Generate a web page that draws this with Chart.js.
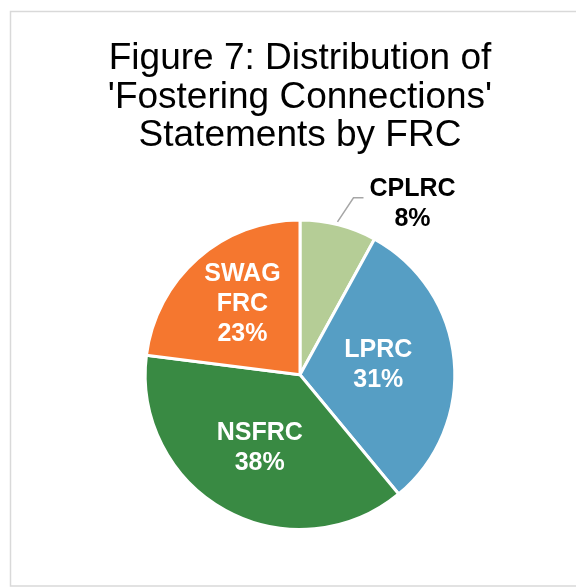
<!DOCTYPE html>
<html>
<head>
<meta charset="utf-8">
<script src="https://cdn.jsdelivr.net/npm/chart.js@4.4.1/dist/chart.umd.min.js"></script>
<style>
  html, body { margin: 0; padding: 0; background: #ffffff; }
  #wrap { width: 576px; height: 587px; }
</style>
</head>
<body>
<div id="wrap"><canvas id="c" width="576" height="587"></canvas></div>
<script>
// FRC categories and their share of statements (%)
const categories = ['CPLRC', 'LPRC', 'NSFRC', 'SWAG FRC'];
const labelLines = [['CPLRC'], ['LPRC'], ['NSFRC'], ['SWAG', 'FRC']];
const shares = [8, 31, 38, 23];
const sliceColors = ['#B5CD96', '#569EC4', '#398A43', '#F5772F'];
const titleLines = ['Figure 7: Distribution of', "'Fostering Connections'", 'Statements by FRC'];

const FONT = '"Liberation Sans", Arial, Helvetica, sans-serif';

// Outer frame of the chart
const framePlugin = {
  id: 'frame',
  beforeDraw(chart) {
    const ctx = chart.ctx;
    ctx.save();
    ctx.fillStyle = '#ffffff';
    ctx.fillRect(0, 0, chart.width, chart.height);
    ctx.strokeStyle = '#d9d9d9';
    ctx.lineWidth = 1.5;
    ctx.strokeRect(10.5, 11.5, chart.width + 10, 574.5);
    ctx.restore();
  }
};

// Data labels: category name + percentage, inside slices or outside with a leader line
const labelPlugin = {
  id: 'sliceLabels',
  afterDatasetsDraw(chart, args, opts) {
    const ctx = chart.ctx;
    const meta = chart.getDatasetMeta(0);
    ctx.save();
    ctx.font = 'bold 25px ' + FONT;
    ctx.textAlign = 'center';
    ctx.textBaseline = 'middle';
    const lh = 30;
    meta.data.forEach((arc, i) => {
      const p = arc.getProps(['x', 'y', 'startAngle', 'endAngle', 'outerRadius']);
      const mid = (p.startAngle + p.endAngle) / 2;
      const lines = labelLines[i].concat([shares[i] + '%']);
      let cx, cy;
      const place = opts.placement[i];
      if (place.outside) {
        const ex = p.x + Math.cos(mid) * p.outerRadius;
        const ey = p.y + Math.sin(mid) * p.outerRadius;
        // leader line
        ctx.strokeStyle = '#a6a6a6';
        ctx.lineWidth = 1.5;
        ctx.beginPath();
        ctx.moveTo(ex - 1, ey - 3);
        ctx.lineTo(ex + place.elbow[0], ey + place.elbow[1]);
        ctx.lineTo(ex + place.elbow[0] + 10, ey + place.elbow[1]);
        ctx.stroke();
        cx = ex + place.offset[0];
        cy = ey + place.offset[1];
        ctx.fillStyle = '#000000';
      } else {
        const r = p.outerRadius * place.r;
        cx = p.x + Math.cos(mid + (place.da || 0)) * r;
        cy = p.y + Math.sin(mid + (place.da || 0)) * r;
        ctx.fillStyle = '#ffffff';
      }
      const top = cy - (lines.length - 1) * lh / 2;
      lines.forEach((t, k) => ctx.fillText(t, cx, top + k * lh));
    });
    ctx.restore();
  }
};

new Chart(document.getElementById('c'), {
  type: 'pie',
  data: {
    labels: categories,
    datasets: [{
      data: shares,
      backgroundColor: sliceColors,
      borderColor: '#ffffff',
      borderWidth: 3
    }]
  },
  options: {
    responsive: false,
    animation: false,
    events: [],
    layout: { padding: { top: 0, bottom: 56, left: 24, right: 0 } },
    plugins: {
      legend: { display: false },
      tooltip: { enabled: false },
      title: {
        display: true,
        text: titleLines,
        color: '#000000',
        font: { family: FONT, size: 37, weight: 'normal', lineHeight: 1.04 },
        padding: { top: 40, bottom: 63 }
      },
      sliceLabels: {
        placement: [
          { outside: true, elbow: [15, -27], offset: [74, -21] },
          { r: 0.51, da: -0.03 },
          { r: 0.54 },
          { r: 0.59, da: 0.04 }
        ]
      }
    }
  },
  plugins: [framePlugin, labelPlugin]
});
</script>
</body>
</html>
